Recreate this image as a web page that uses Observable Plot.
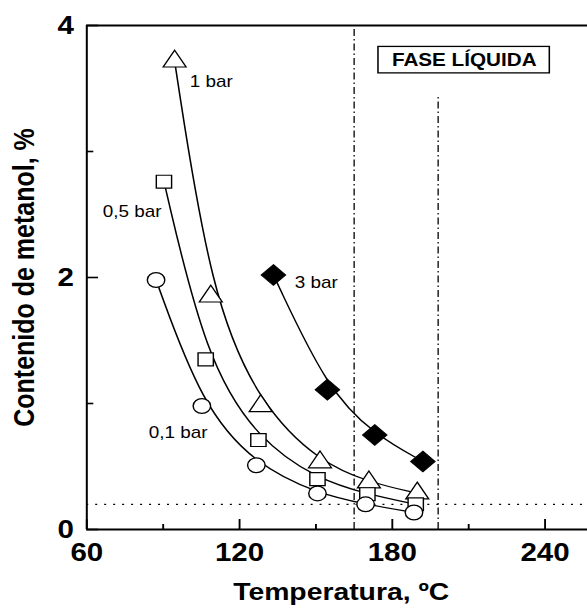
<!DOCTYPE html>
<html><head><meta charset="utf-8">
<script src="https://cdn.jsdelivr.net/npm/d3@7"></script>
<script src="https://cdn.jsdelivr.net/npm/@observablehq/plot@0.6"></script>
<style>
html,body{margin:0;padding:0;background:#fff;}
#chart svg{display:block;}
</style></head><body><div id="chart"></div>
<script>
// ---- data ----
const temp01 = [87.2, 105.2, 126.6, 150.6, 169.5, 188.5];
const met01  = [1.98, 0.98, 0.51, 0.286, 0.20, 0.135];
const temp05 = [90.3, 106.7, 127.4, 150.6, 170.2, 189.2];
const met05  = [2.76, 1.35, 0.71, 0.40, 0.28, 0.20];
const temp1  = [94.5, 108.7, 128.3, 151.6, 170.8, 189.8];
const met1   = [3.715, 1.85, 0.98, 0.534, 0.375, 0.287];
const temp3  = [133.3, 154.5, 173.1, 192.0];
const met3   = [2.02, 1.11, 0.75, 0.54];

const seriesNames = ["0,1 bar", "0,5 bar", "1 bar", "3 bar"];
const labelX = [84.3, 66.3, 100.4, 141.7];
const labelY = [0.77, 2.52, 3.55, 1.96];

const xMajorTicks = [60, 120, 180, 240];
const xMinorTicks = [90, 150, 210];
const yMajorTicks = [0, 2, 4];
const yMinorTicks = [1, 3];

const limitTemps = [165, 198];
const limitTops  = [4, 3.43];
const refLevel   = [0.2];

const boxText = "FASE LÍQUIDA";
const boxX = [174.6, 241.9];
const boxY = [3.62, 3.83];

const xTitle = "Temperatura, ºC";
const yTitle = "Contenido de metanol, %";

// ---- build tables ----
const mk = (T, V, s) => T.map((t, i) => ({t, v: V[i], s}));
const d01 = mk(temp01, met01, seriesNames[0]);
const d05 = mk(temp05, met05, seriesNames[1]);
const d1  = mk(temp1,  met1,  seriesNames[2]);
const d3  = mk(temp3,  met3,  seriesNames[3]);
const allPts = [...d01, ...d05, ...d1, ...d3];
const labels = seriesNames.map((n, i) => ({n, x: labelX[i], y: labelY[i]}));
const limits = limitTemps.map((x, i) => ({x, top: limitTops[i]}));

const W = 497, H = 612;
const font = "'Liberation Sans', Arial, sans-serif";
const intFmt = d => String(d);

const chart = Plot.plot({
  width: W, height: H,
  marginLeft: 73, marginRight: 0, marginTop: 25, marginBottom: 83,
  x: {domain: [60, 256.7], label: null},
  y: {domain: [0, 4], label: null},
  style: {fontFamily: font, background: "white", color: "black", overflow: "visible"},
  marks: [
    Plot.ruleY(refLevel, {strokeDasharray: "1.7,5.9", strokeWidth: 1.2}),
    Plot.ruleX(limits, {x: "x", y1: 0, y2: "top", strokeDasharray: "7,3,1.5,3", strokeWidth: 1.1}),
    Plot.line(allPts, {x: "t", y: "v", z: "s", curve: "basis", stroke: "black", strokeWidth: 1.3}),
    Plot.dot(d3,  {x: "t", y: "v", symbol: "diamond2", r: 9.3, fill: "black", stroke: "black", strokeWidth: 1}),
    Plot.dot(d1,  {x: "t", y: "v", symbol: "triangle", r: 7.2, fill: "white", stroke: "black", strokeWidth: 1.2}),
    Plot.dot(d05, {x: "t", y: "v", symbol: "square", r: 7.3, fill: "white", stroke: "black", strokeWidth: 1.2}),
    Plot.dot(d01, {x: "t", y: "v", symbol: "circle", r: 7.4, fill: "white", stroke: "black", strokeWidth: 1.2}),
    Plot.text(labels, {x: "x", y: "y", text: "n", textAnchor: "start", fontSize: 16}),
    Plot.rect([0], {x1: () => boxX[0], x2: () => boxX[1], y1: () => boxY[0], y2: () => boxY[1], fill: "white", stroke: "black", strokeWidth: 1.3}),
    Plot.text([boxText], {x: () => (boxX[0] + boxX[1]) / 2, y: () => (boxY[0] + boxY[1]) / 2, text: d => d, fontSize: 17.5, fontWeight: "bold"}),
    // frame
    Plot.ruleY([0], {strokeWidth: 2}),
    Plot.ruleY([4], {strokeWidth: 2}),
    Plot.ruleX([60], {strokeWidth: 1.7}),
    // axes
    Plot.axisX({ticks: xMajorTicks, tickFormat: intFmt, tickSize: -10, tickPadding: 24, fontSize: 25, fontWeight: "bold", strokeWidth: 1.6, label: null}),
    Plot.axisX({ticks: xMinorTicks, tickSize: -5, tickFormat: () => "", strokeWidth: 1.6, label: null}),
    Plot.axisY({ticks: yMajorTicks, tickFormat: intFmt, tickSize: -10, tickPadding: 21, fontSize: 25, fontWeight: "bold", strokeWidth: 1.6, label: null}),
    Plot.axisY({ticks: yMinorTicks, tickSize: -6, tickFormat: () => "", strokeWidth: 1.6, label: null}),
    // titles
    Plot.text([xTitle], {frameAnchor: "bottom", text: d => d, textAnchor: "middle", dy: 70, dx: 3.4, fontSize: 24, fontWeight: "bold"}),
    Plot.text([yTitle], {frameAnchor: "left", text: d => d, textAnchor: "middle", rotate: -90, dx: -52.5, fontSize: 25, fontWeight: "bold"})
  ]
});

// the reference is horizontally stretched: stretch the SVG the same way
chart.setAttribute("width", 587);
chart.setAttribute("preserveAspectRatio", "none");
chart.style.width = "587px";
chart.style.height = "612px";
chart.style.maxWidth = "none";
document.getElementById("chart").appendChild(chart);
</script>
</body></html>
